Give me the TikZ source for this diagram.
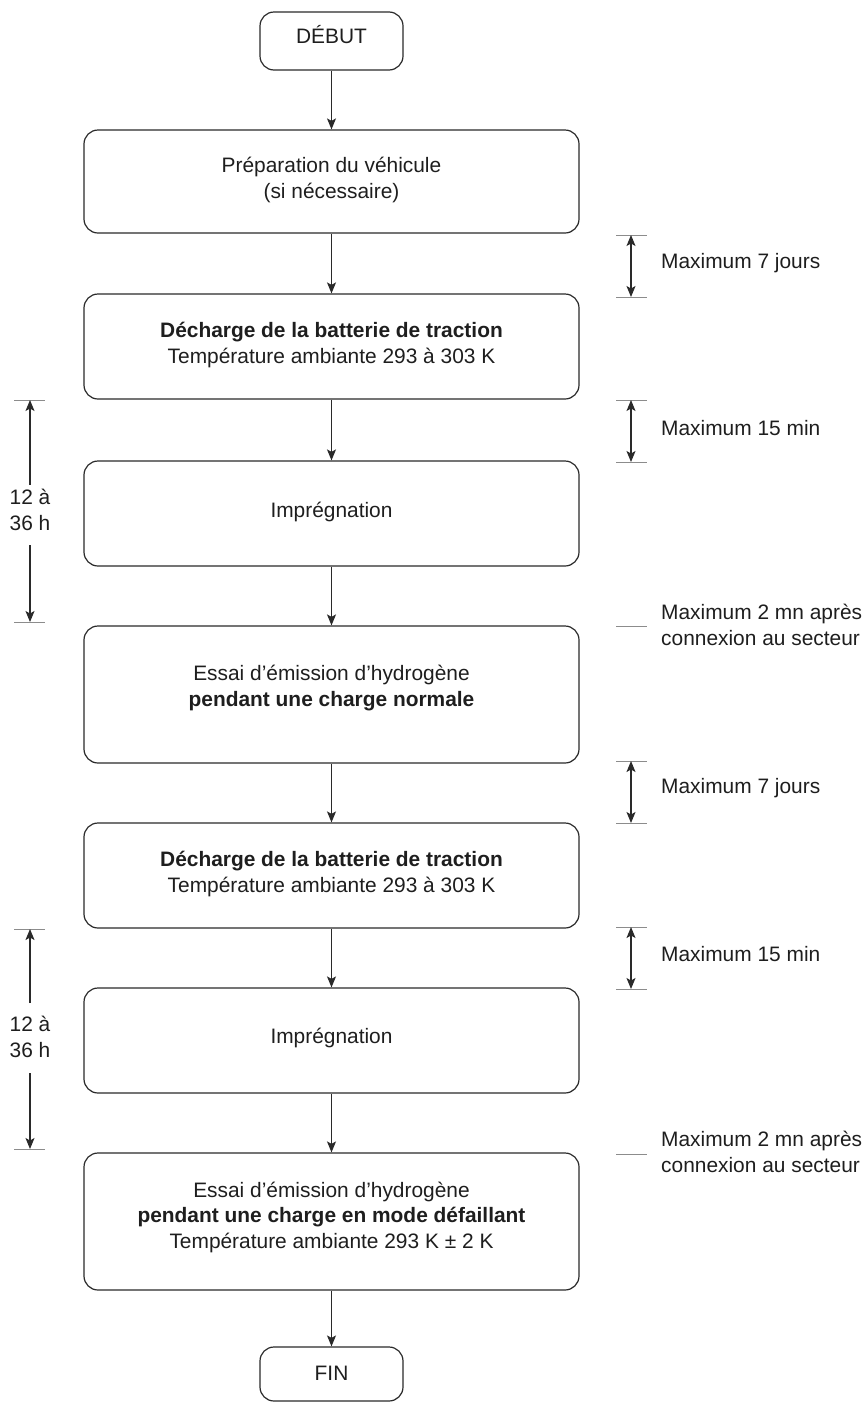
\documentclass[tikz,border=0pt]{standalone}
\usepackage{fontspec}
\setmainfont{Liberation Sans}
\usetikzlibrary{arrows.meta}
\definecolor{linec}{HTML}{2A2A2A}
\definecolor{tickc}{HTML}{8C8C8C}
\definecolor{textc}{HTML}{1E1E1E}
\newcommand\fsz{\fontsize{20.9}{25.5}\selectfont}
\begin{document}
\begin{tikzpicture}[x=1pt,y=-1pt,
  box/.style={draw=linec, line width=1.2pt, rounded corners=14pt, minimum width=495pt, inner sep=0pt},
  endbox/.style={draw=linec, line width=1.2pt, rounded corners=14pt, minimum width=143pt, inner sep=0pt},
  txt/.style={align=center, inner sep=0pt, font=\fsz, text=textc},
  side/.style={align=left, inner sep=0pt, font=\fsz, text=textc, anchor=base west},
  flow/.style={draw=linec, line width=1.2pt, -{Stealth[length=11pt,width=9pt,inset=2.5pt]}},
  dim/.style={draw=linec, line width=1.2pt, {Stealth[length=11pt,width=9pt,inset=2.5pt]}-{Stealth[length=11pt,width=9pt,inset=2.5pt]}},
  halfdim/.style={draw=linec, line width=1.2pt, -{Stealth[length=11pt,width=9pt,inset=2.5pt]}},
  tickline/.style={draw=tickc, line width=1pt},
]
\useasboundingbox (0,0) rectangle (866,1403);

% boxes
\node[endbox, minimum height=58pt] (b0) at (331.5,41) {};
\node[box, minimum height=103pt] (b1) at (331.5,181.5) {};
\node[box, minimum height=105pt] (b2) at (331.5,346.5) {};
\node[box, minimum height=105pt] (b3) at (331.5,513.5) {};
\node[box, minimum height=137pt] (b4) at (331.5,694.5) {};
\node[box, minimum height=105pt] (b5) at (331.5,875.5) {};
\node[box, minimum height=105pt] (b6) at (331.5,1040.5) {};
\node[box, minimum height=137pt] (b7) at (331.5,1221.5) {};
\node[endbox, minimum height=54pt] (b8) at (331.5,1374) {};

% texts (base anchor = baseline of the last line)
\node[txt, anchor=base] (t0) at (331.5,43) {DÉBUT};
\node[txt, anchor=base] (t1) at (331.5,198) {Préparation du véhicule\\(si nécessaire)};
\node[txt, anchor=base] (t2) at (331.5,363) {\textbf{Décharge de la batterie de traction}\\Température ambiante 293 à 303 K};
\node[txt, anchor=base] (t3) at (331.5,517) {Imprégnation};
\node[txt, anchor=base] (t4) at (331.5,706) {Essai d’émission d’hydrogène\\\textbf{pendant une charge normale}};
\node[txt, anchor=base] (t5) at (331.5,892) {\textbf{Décharge de la batterie de traction}\\Température ambiante 293 à 303 K};
\node[txt, anchor=base] (t6) at (331.5,1043) {Imprégnation};
\node[txt, anchor=base] (t7) at (331.5,1248) {Essai d’émission d’hydrogène\\\textbf{pendant une charge en mode défaillant}\\Température ambiante 293 K ± 2 K};
\node[txt, anchor=base] (t8) at (331.5,1380) {FIN};

% flow connectors
\draw[flow] (b0) -- (b1);
\draw[flow] (b1) -- (b2);
\draw[flow] (b2) -- (b3);
\draw[flow] (b3) -- (b4);
\draw[flow] (b4) -- (b5);
\draw[flow] (b5) -- (b6);
\draw[flow] (b6) -- (b7);
\draw[flow] (b7) -- (b8);

% right-hand dimensions
\coordinate (r1a) at (631,235);  \coordinate (r1b) at (631,297);
\coordinate (r2a) at (631,400);  \coordinate (r2b) at (631,462);
\coordinate (r4a) at (631,761);  \coordinate (r4b) at (631,823);
\coordinate (r5a) at (631,927);  \coordinate (r5b) at (631,989);
\coordinate (m1) at (631,626);   \coordinate (m2) at (631,1154);
\foreach \c in {r1a,r1b,r2a,r2b,r4a,r4b,r5a,r5b,m1,m2}
  \draw[tickline] ([xshift=-15pt]\c) -- ([xshift=16pt]\c);
\draw[dim] (r1a) -- (r1b);
\draw[dim] (r2a) -- (r2b);
\draw[dim] (r4a) -- (r4b);
\draw[dim] (r5a) -- (r5b);

\node[side] (s1) at (661,268) {Maximum 7 jours};
\node[side] (s2) at (661,435) {Maximum 15 min};
\node[side] (s3) at (661,645) {Maximum 2 mn après\\connexion au secteur};
\node[side] (s4) at (661,793) {Maximum 7 jours};
\node[side] (s5) at (661,961) {Maximum 15 min};
\node[side] (s6) at (661,1172) {Maximum 2 mn après\\connexion au secteur};

% left-hand dimensions
\coordinate (l1a) at (30,400);  \coordinate (l1b) at (30,622);
\coordinate (l1c) at (30,485);  \coordinate (l1d) at (30,545);
\coordinate (l2a) at (30,929);  \coordinate (l2b) at (30,1149);
\coordinate (l2c) at (30,1003); \coordinate (l2d) at (30,1073);
\foreach \c in {l1a,l1b,l2a,l2b}
  \draw[tickline] ([xshift=-16pt]\c) -- ([xshift=15pt]\c);
\draw[halfdim] (l1c) -- (l1a);
\draw[halfdim] (l1d) -- (l1b);
\draw[halfdim] (l2c) -- (l2a);
\draw[halfdim] (l2d) -- (l2b);
\node[txt, anchor=base] (h1) at (30,530) {12 à\\36 h};
\node[txt, anchor=base] (h2) at (30,1057) {12 à\\36 h};
\end{tikzpicture}
\end{document}
